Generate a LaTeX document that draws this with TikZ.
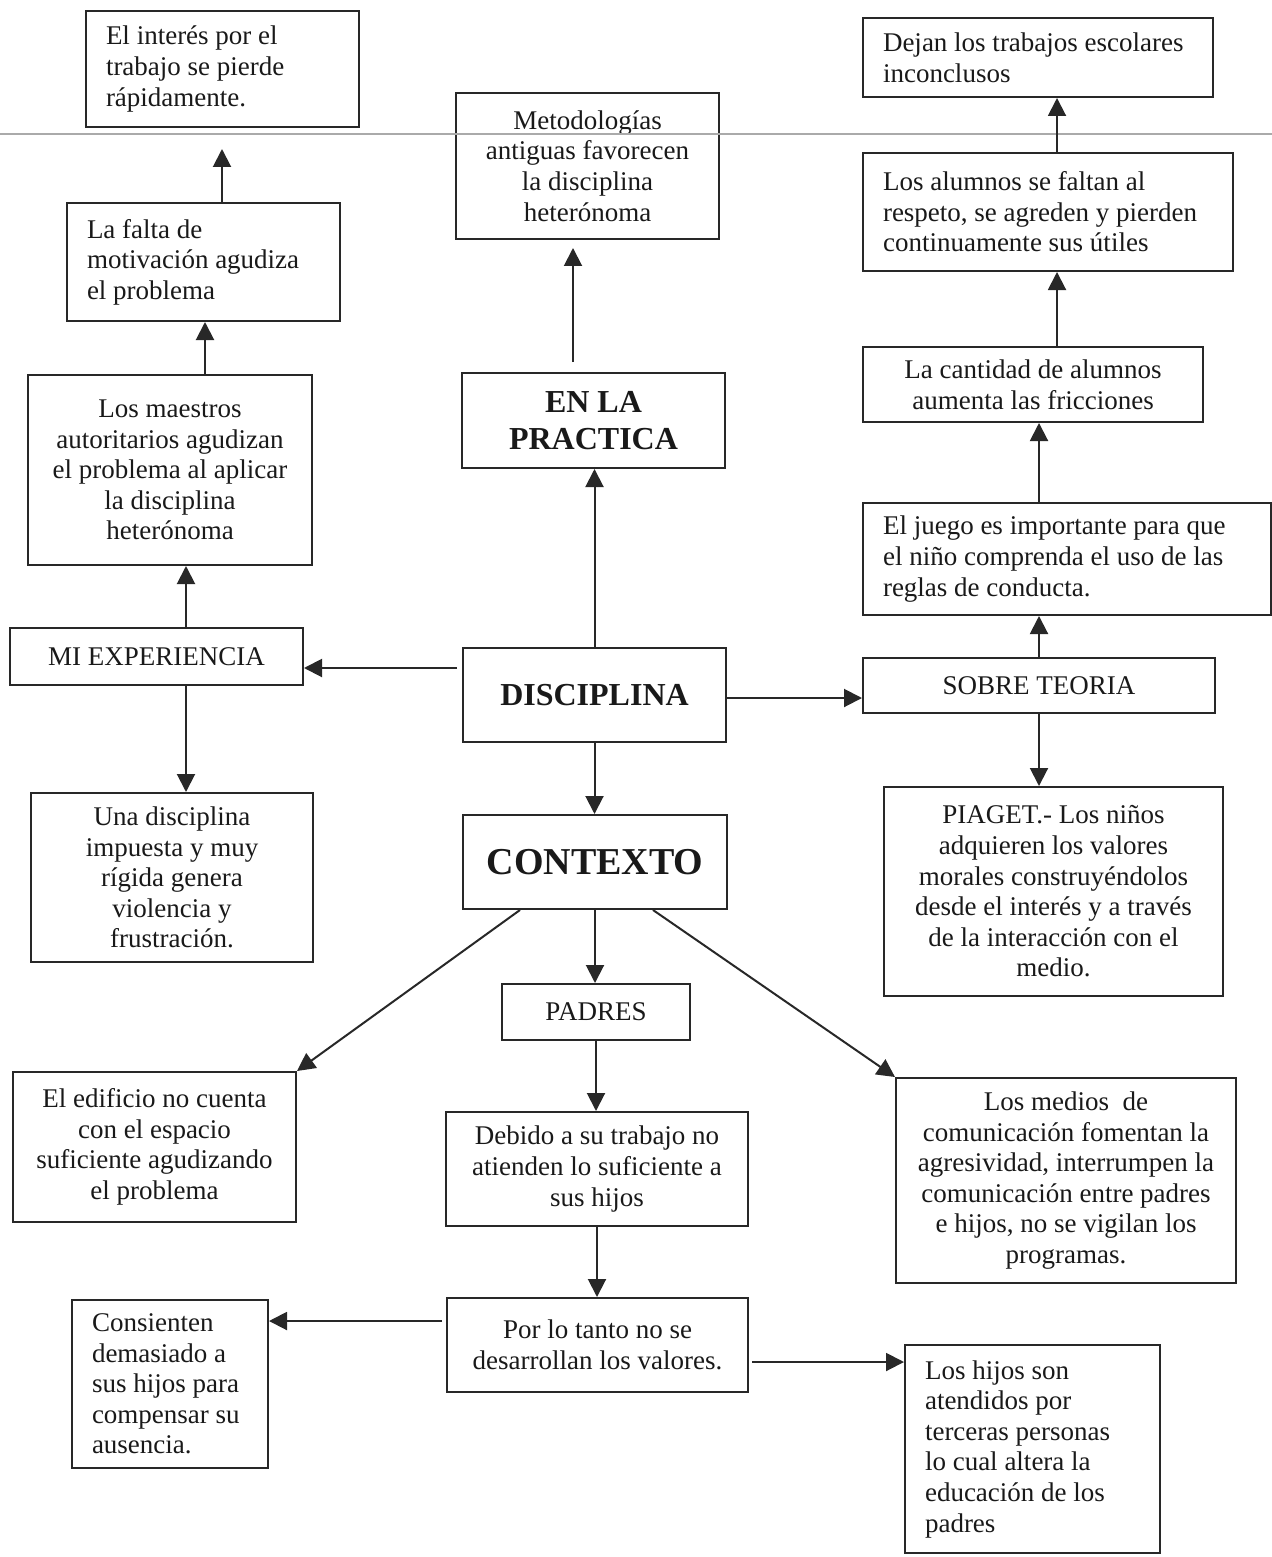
\documentclass[tikz,border=0pt]{standalone}
\usepackage{fontspec}
\setmainfont{Liberation Serif}
\usetikzlibrary{arrows.meta}
\definecolor{trazo}{RGB}{40,40,40}
\definecolor{raya}{RGB}{170,170,170}
\newcommand{\letra}{\fontsize{13.5}{15.3}\selectfont}
\newcommand{\letragrande}{\fontsize{16}{18.4}\selectfont\bfseries}
\begin{document}
\begin{tikzpicture}[x=0.5pt, y=-0.5pt,
    caja/.style={draw=trazo, line width=1pt, inner xsep=10pt, inner ysep=3pt,
        font=\letra, text=black!90, align=center},
    cajaizq/.style={caja, align=flush left},
    titulo/.style={caja, font=\letragrande},
    flecha/.style={draw=trazo, line width=1pt, -{Triangle[length=9pt, width=9pt]}}]
    \useasboundingbox (0,0) rectangle (1272,1557);

    % centro del mapa
    \node[titulo, minimum width=131.5pt, minimum height=47pt] (disciplina) at (594.5,695) {DISCIPLINA};
    \node[titulo, minimum width=131.5pt, minimum height=47.5pt] (practica) at (593.5,420.5) {EN LA\\ PRACTICA};
    \node[titulo, font=\fontsize{19}{22}\selectfont\bfseries, minimum width=132pt, minimum height=47pt] (contexto) at (595,862) {CONTEXTO};
    \node[caja, minimum width=131.5pt, minimum height=73pt] (metod) at (587.5,166)
        {Metodologías\\ antiguas favorecen\\ la disciplina\\ heterónoma};

    % rama izquierda
    \node[caja, minimum width=146.5pt, minimum height=28.5pt] (miexp) at (156.5,656.5) {MI EXPERIENCIA};
    \node[caja, minimum width=142pt, minimum height=95pt] (maestros) at (170,470)
        {Los maestros\\ autoritarios agudizan\\ el problema al aplicar\\ la disciplina\\ heterónoma};
    \node[cajaizq, text width=116.5pt, minimum height=59pt] (falta) at (203.5,262)
        {La falta de\\ motivación agudiza\\ el problema};
    \node[cajaizq, text width=116.5pt, minimum height=58pt] (interes) at (222.5,69)
        {El interés por el\\ trabajo se pierde\\ rápidamente.};
    \node[caja, minimum width=141pt, minimum height=84.5pt] (una) at (172,877.5)
        {Una disciplina\\ impuesta y muy\\ rígida genera\\ violencia y\\ frustración.};

    % rama derecha
    \node[caja, minimum width=176pt, minimum height=27.5pt] (sobre) at (1039,685.5) {SOBRE TEORIA};
    \node[cajaizq, text width=184pt, minimum height=56pt] (juego) at (1067,559)
        {El juego es importante para que\\ el niño comprenda el uso de las\\ reglas de conducta.};
    \node[caja, minimum width=170pt, minimum height=37.5pt] (cantidad) at (1033,384.5)
        {La cantidad de alumnos\\ aumenta las fricciones};
    \node[cajaizq, text width=165pt, minimum height=59pt] (alumnos) at (1048,212)
        {Los alumnos se faltan al\\ respeto, se agreden y pierden\\ continuamente sus útiles};
    \node[cajaizq, text width=155pt, minimum height=39.5pt] (dejan) at (1038,57.5)
        {Dejan los trabajos escolares\\ inconclusos};
    \node[caja, minimum width=169.5pt, minimum height=104.5pt] (piaget) at (1053.5,891.5)
        {PIAGET.- Los niños\\ adquieren los valores\\ morales construyéndolos\\ desde el interés y a través\\ de la interacción con el\\ medio.};

    % contexto
    \node[caja, minimum width=94pt, minimum height=28pt] (padres) at (596,1012) {PADRES};
    \node[caja, minimum width=141.5pt, minimum height=75pt] (edificio) at (154.5,1147)
        {El edificio no cuenta\\ con el espacio\\ suficiente agudizando\\ el problema};
    \node[caja, minimum width=170pt, minimum height=102.5pt] (medios) at (1066,1180.5)
        {Los medios~ de\\ comunicación fomentan la\\ agresividad, interrumpen la\\ comunicación entre padres\\ e hijos, no se vigilan los\\ programas.};
    \node[caja, minimum width=151pt, minimum height=57pt] (debido) at (597,1169)
        {Debido a su trabajo no\\ atienden lo suficiente a\\ sus hijos};
    \node[caja, minimum width=150.5pt, minimum height=47pt] (portanto) at (597.5,1345)
        {Por lo tanto no se\\ desarrollan los valores.};
    \node[cajaizq, text width=78pt, minimum height=84pt] (consienten) at (170,1384)
        {Consienten\\ demasiado a\\ sus hijos para\\ compensar su\\ ausencia.};
    \node[cajaizq, text width=107.5pt, minimum height=104pt] (hijos) at (1032.5,1449)
        {Los hijos son\\ atendidos por\\ terceras personas\\ lo cual altera la\\ educación de los\\ padres};

    % raya gris del escaneo
    \draw[raya, line width=1pt] (0,134) -- (1272,134);

    % flechas desde DISCIPLINA
    \draw[flecha] (disciplina.north) -- (disciplina.north |- practica.south);
    \draw[flecha] ([xshift=-10.25pt,yshift=5pt]practica.north) coordinate (p1) -- ([yshift=-4pt]p1 |- metod.south);
    \draw[flecha] ([xshift=-2.5pt,yshift=13.5pt]disciplina.west) coordinate (d1) -- (d1 -| miexp.east);
    \draw[flecha] ([yshift=-1.5pt]disciplina.east) coordinate (d2) -- (d2 -| sobre.west);
    \draw[flecha] (disciplina.south) -- (disciplina.south |- contexto.north);

    % izquierda
    \draw[flecha] ([xshift=14.75pt]miexp.north) coordinate (e1) -- (e1 |- maestros.south);
    \draw[flecha] ([xshift=14.75pt]miexp.south) coordinate (e2) -- (e2 |- una.north);
    \draw[flecha] ([xshift=17.5pt]maestros.north) coordinate (e3) -- (e3 |- falta.south);
    \draw[flecha] ([xshift=9.25pt]falta.north) coordinate (e4) -- ([yshift=-10.5pt]e4 |- interes.south);

    % derecha
    \draw[flecha] (sobre.north) -- (sobre.north |- juego.south);
    \draw[flecha] (sobre.south) -- (sobre.south |- piaget.north);
    \draw[flecha] (juego.north -| sobre.north) -- (sobre.north |- cantidad.south);
    \draw[flecha] ([xshift=12pt]cantidad.north) coordinate (c1) -- (c1 |- alumnos.south);
    \draw[flecha] (c1 |- alumnos.north) -- (c1 |- dejan.south);

    % contexto
    \draw[flecha] (contexto.south) -- (contexto.south |- padres.north);
    \draw[flecha] ([xshift=-37.5pt]contexto.south) -- (edificio.north east);
    \draw[flecha] ([xshift=29pt]contexto.south) -- (medios.north west);
    \draw[flecha] (padres.south) -- (padres.south |- debido.north);
    \draw[flecha] (debido.south) -- (debido.south |- portanto.north);
    \draw[flecha] ([xshift=-2pt,yshift=12pt]portanto.west) coordinate (t1) -- (t1 -| consienten.east);
    \draw[flecha] ([xshift=1.5pt,yshift=-8.5pt]portanto.east) coordinate (t2) -- (t2 -| hijos.west);
\end{tikzpicture}
\end{document}
